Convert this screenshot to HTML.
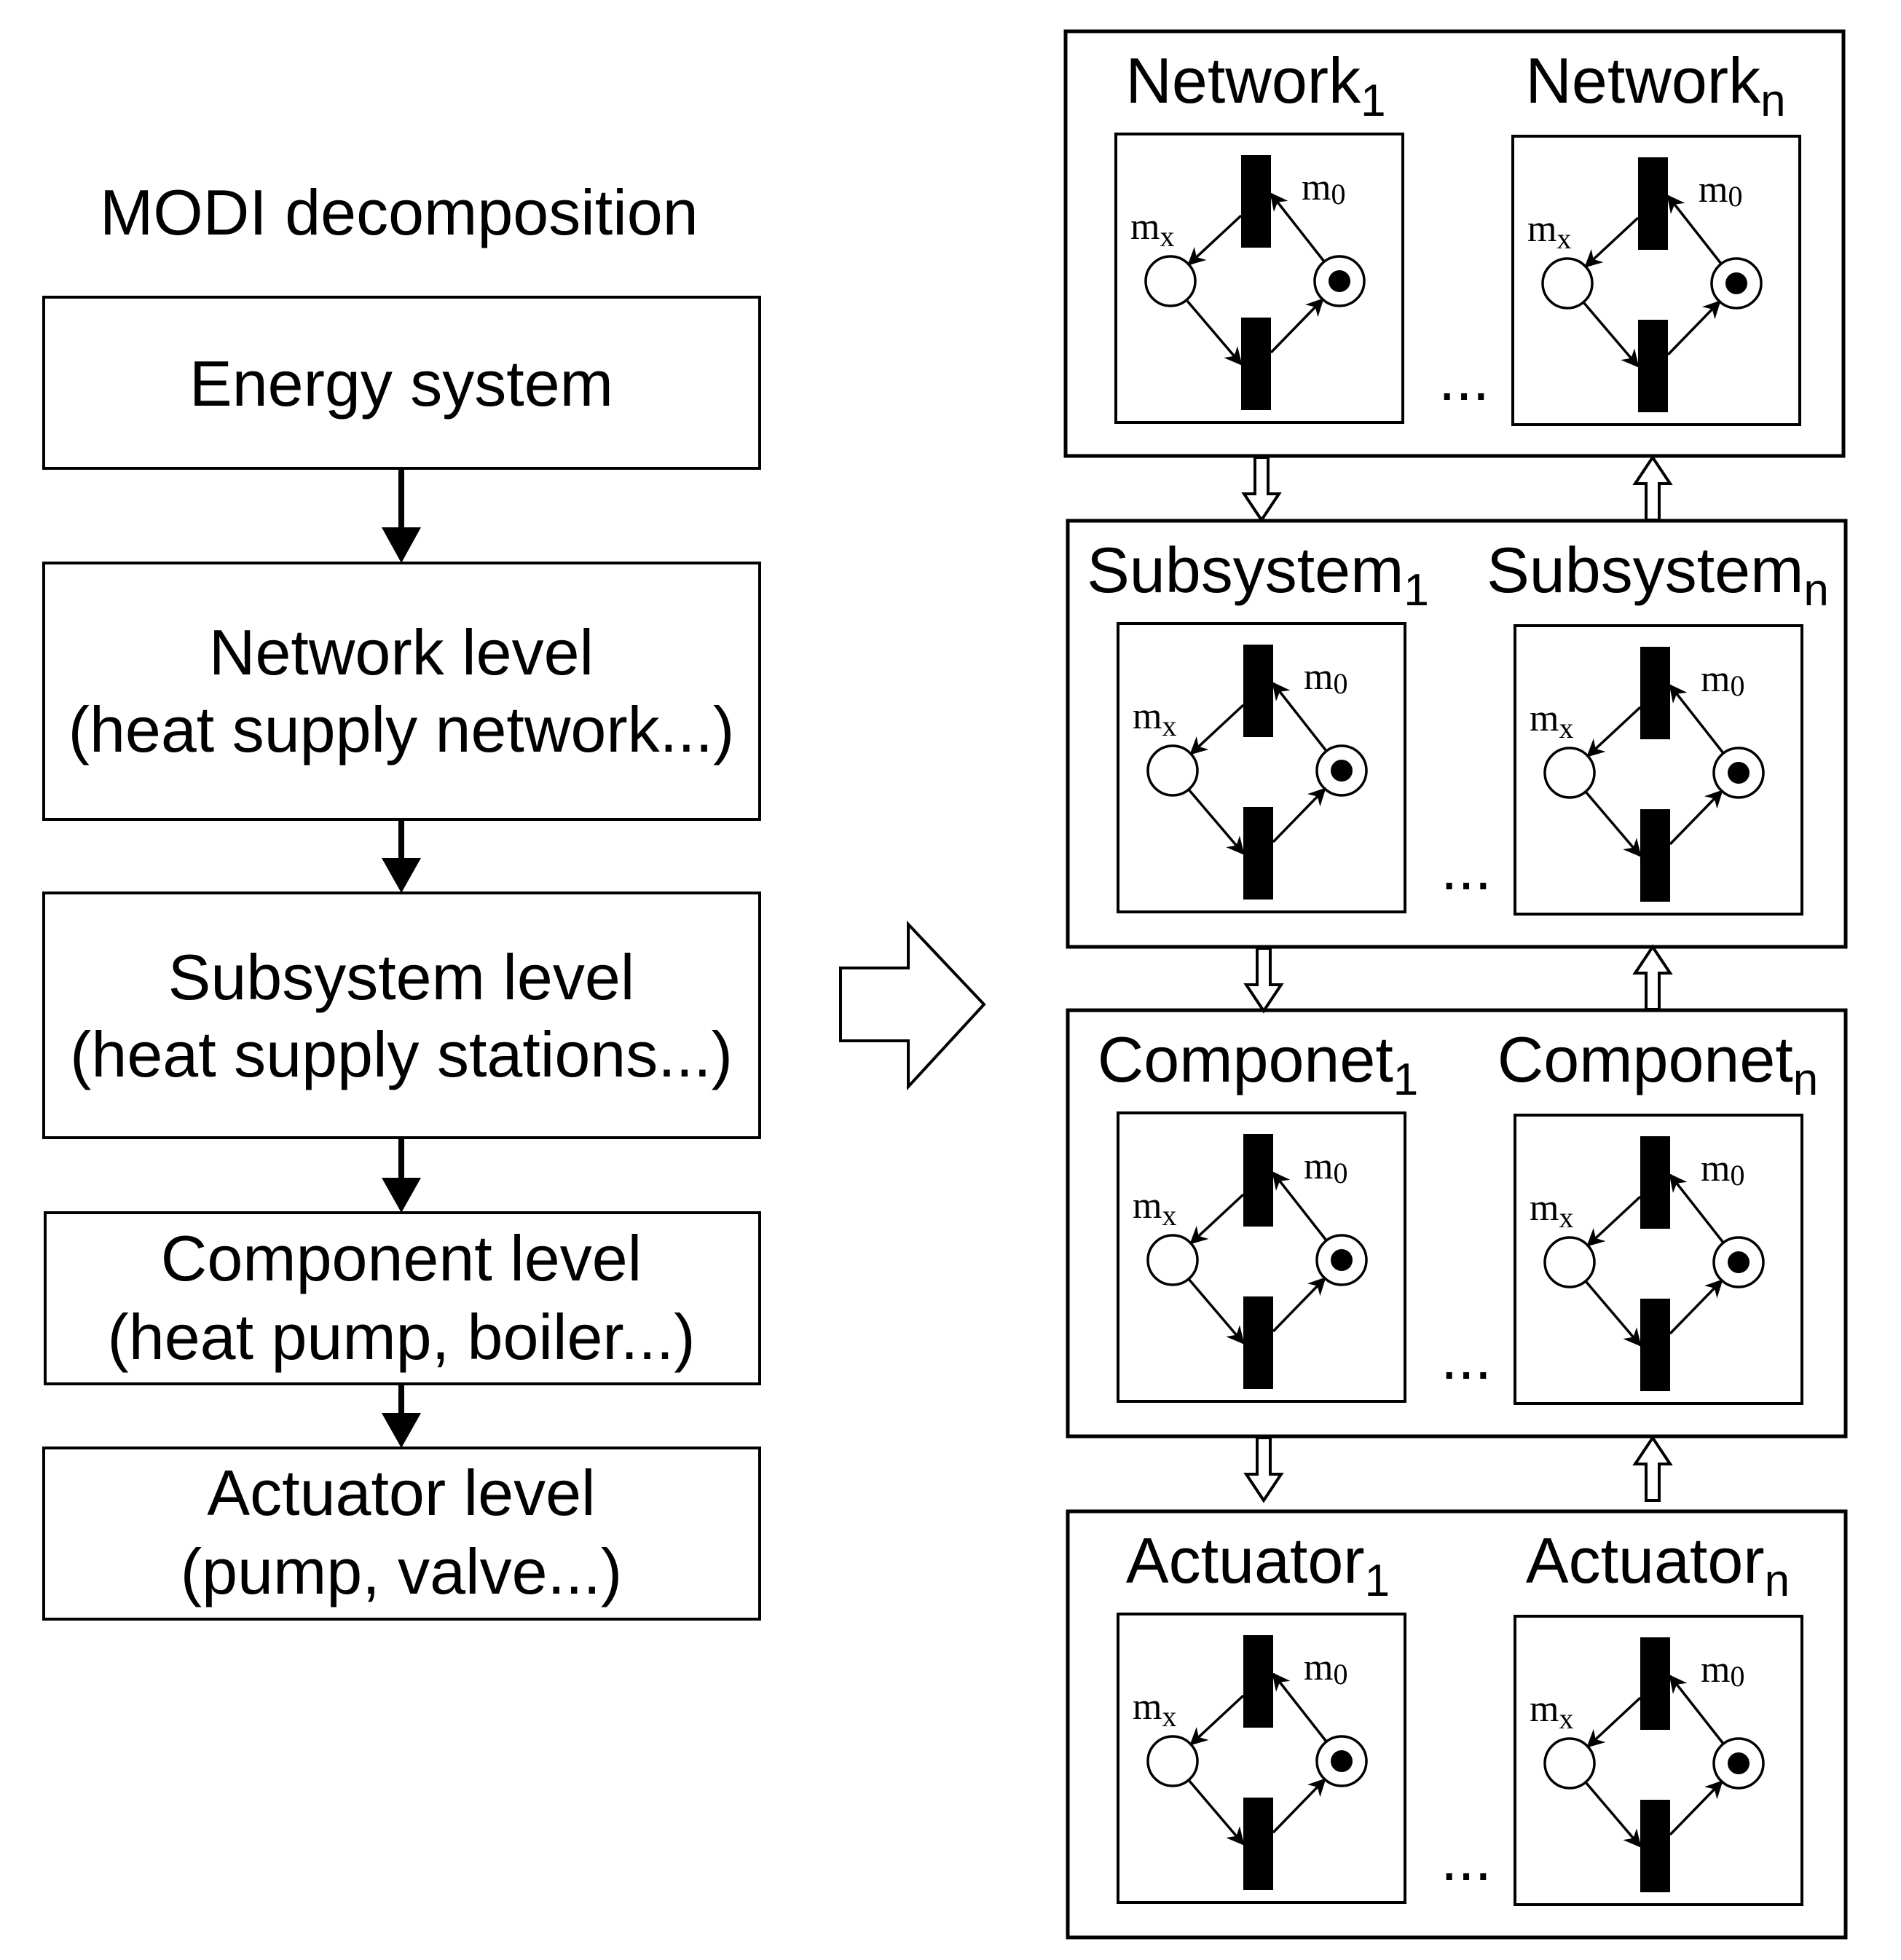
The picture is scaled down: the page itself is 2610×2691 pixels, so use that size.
<!DOCTYPE html>
<html><head><meta charset="utf-8"><style>
html,body{margin:0;padding:0;background:#fff}
svg{display:block}
text{font-family:"Liberation Sans",sans-serif;fill:#000}
.s{font-family:"Liberation Serif",serif;font-size:52px}
</style></head><body>
<svg width="2610" height="2691" viewBox="0 0 2610 2691" xmlns="http://www.w3.org/2000/svg">
<defs>
<marker id="a" viewBox="0 0 10 10" refX="9" refY="5" markerWidth="7" markerHeight="7" orient="auto" markerUnits="strokeWidth"><path d="M0,0 L10,5 L0,10 L3,5 z" fill="#000"/></marker>
<g id="pn">
<rect x="0" y="0" width="394" height="396" fill="#fff" stroke="#000" stroke-width="4"/>
<rect x="172" y="29" width="41" height="127" fill="#000"/>
<rect x="172" y="252" width="41" height="127" fill="#000"/>
<circle cx="75" cy="202" r="34" fill="#fff" stroke="#000" stroke-width="3.5"/>
<circle cx="307" cy="202" r="34" fill="#fff" stroke="#000" stroke-width="3.5"/>
<circle cx="307" cy="202" r="15" fill="#000"/>
<g stroke="#000" stroke-width="3.5" fill="none">
<line x1="172" y1="112" x2="100" y2="179" marker-end="url(#a)"/>
<line x1="286" y1="175" x2="213" y2="82" marker-end="url(#a)"/>
<line x1="97" y1="228" x2="172" y2="316" marker-end="url(#a)"/>
<line x1="213" y1="300" x2="284" y2="227" marker-end="url(#a)"/>
</g>
</g>
<g id="dn"><path d="M-9,0 L9,0 L9,50 L24,50 L0,86 L-24,50 L-9,50 Z" fill="#fff" stroke="#000" stroke-width="4"/></g>
<g id="up"><path d="M-9,86 L9,86 L9,36 L24,36 L0,0 L-24,36 L-9,36 Z" fill="#fff" stroke="#000" stroke-width="4"/></g>
</defs>
<rect width="2610" height="2691" fill="#fff"/>

<!-- Left column -->
<text x="137" y="322" font-size="88">MODI decomposition</text>
<g fill="#fff" stroke="#000" stroke-width="4">
<rect x="60" y="408" width="983" height="235"/>
<rect x="60" y="773" width="983" height="352"/>
<rect x="60" y="1226" width="983" height="336"/>
<rect x="62" y="1665" width="981" height="235"/>
<rect x="60" y="1988" width="983" height="235"/>
</g>
<g font-size="88" text-anchor="middle">
<text x="551" y="557">Energy system</text>
<text x="551" y="926">Network level</text>
<text x="551" y="1032">(heat supply network...)</text>
<text x="551" y="1372">Subsystem level</text>
<text x="551" y="1478">(heat supply stations...)</text>
<text x="551" y="1758">Component level</text>
<text x="551" y="1866">(heat pump, boiler...)</text>
<text x="551" y="2080">Actuator level</text>
<text x="551" y="2188">(pump, valve...)</text>
</g>
<g stroke="#000" stroke-width="8">
<line x1="551" y1="643" x2="551" y2="735"/>
<line x1="551" y1="1125" x2="551" y2="1190"/>
<line x1="551" y1="1562" x2="551" y2="1630"/>
<line x1="551" y1="1900" x2="551" y2="1953"/>
</g>
<g fill="#000">
<path d="M524,724 L578,724 L551,773 Z"/>
<path d="M524,1178 L578,1178 L551,1226 Z"/>
<path d="M524,1617 L578,1617 L551,1665 Z"/>
<path d="M524,1940 L578,1940 L551,1988 Z"/>
</g>

<path d="M1154,1329 L1247,1329 L1247,1269 L1351,1379 L1247,1492 L1247,1429 L1154,1429 Z" fill="#fff" stroke="#000" stroke-width="4"/>

<g fill="none" stroke="#000" stroke-width="5">
<rect x="1463" y="43" width="1068" height="583"/>
<rect x="1466" y="715" width="1068" height="585"/>
<rect x="1466" y="1387" width="1068" height="585"/>
<rect x="1466" y="2075" width="1068" height="585"/>
</g>

<g font-size="88" text-anchor="middle">
<text x="1724" y="141">Network<tspan font-size="62" dy="18">1</tspan></text>
<text x="2273" y="141">Network<tspan font-size="62" dy="18">n</tspan></text>
<text x="1727" y="813">Subsystem<tspan font-size="62" dy="18">1</tspan></text>
<text x="2276" y="813">Subsystem<tspan font-size="62" dy="18">n</tspan></text>
<text x="1727" y="1485">Componet<tspan font-size="62" dy="18">1</tspan></text>
<text x="2276" y="1485">Componet<tspan font-size="62" dy="18">n</tspan></text>
<text x="1727" y="2173">Actuator<tspan font-size="62" dy="18">1</tspan></text>
<text x="2276" y="2173">Actuator<tspan font-size="62" dy="18">n</tspan></text>
</g>
<g font-size="84" text-anchor="middle">
<text x="2010" y="549">...</text>
<text x="2013" y="1221">...</text>
<text x="2013" y="1893">...</text>
<text x="2013" y="2581">...</text>
</g>

<use href="#pn" x="1532" y="184"/>
<use href="#pn" x="2077" y="187"/>
<use href="#pn" x="1535" y="856"/>
<use href="#pn" x="2080" y="859"/>
<use href="#pn" x="1535" y="1528"/>
<use href="#pn" x="2080" y="1531"/>
<use href="#pn" x="1535" y="2216"/>
<use href="#pn" x="2080" y="2219"/>

<g class="s">
<text x="1787" y="274" class="s">m<tspan font-size="40" dy="6">0</tspan></text>
<text x="1552" y="328" class="s">m<tspan font-size="40" dy="10">x</tspan></text>
<text x="2332" y="277" class="s">m<tspan font-size="40" dy="6">0</tspan></text>
<text x="2097" y="331" class="s">m<tspan font-size="40" dy="10">x</tspan></text>
<text x="1790" y="946" class="s">m<tspan font-size="40" dy="6">0</tspan></text>
<text x="1555" y="1000" class="s">m<tspan font-size="40" dy="10">x</tspan></text>
<text x="2335" y="949" class="s">m<tspan font-size="40" dy="6">0</tspan></text>
<text x="2100" y="1003" class="s">m<tspan font-size="40" dy="10">x</tspan></text>
<text x="1790" y="1618" class="s">m<tspan font-size="40" dy="6">0</tspan></text>
<text x="1555" y="1672" class="s">m<tspan font-size="40" dy="10">x</tspan></text>
<text x="2335" y="1621" class="s">m<tspan font-size="40" dy="6">0</tspan></text>
<text x="2100" y="1675" class="s">m<tspan font-size="40" dy="10">x</tspan></text>
<text x="1790" y="2306" class="s">m<tspan font-size="40" dy="6">0</tspan></text>
<text x="1555" y="2360" class="s">m<tspan font-size="40" dy="10">x</tspan></text>
<text x="2335" y="2309" class="s">m<tspan font-size="40" dy="6">0</tspan></text>
<text x="2100" y="2363" class="s">m<tspan font-size="40" dy="10">x</tspan></text>
</g>

<use href="#dn" x="1732" y="628"/>
<use href="#up" x="2269" y="628"/>
<use href="#dn" x="1735" y="1302"/>
<use href="#up" x="2269" y="1300"/>
<use href="#dn" x="1735" y="1974"/>
<use href="#up" x="2269" y="1974"/>
</svg>
</body></html>
